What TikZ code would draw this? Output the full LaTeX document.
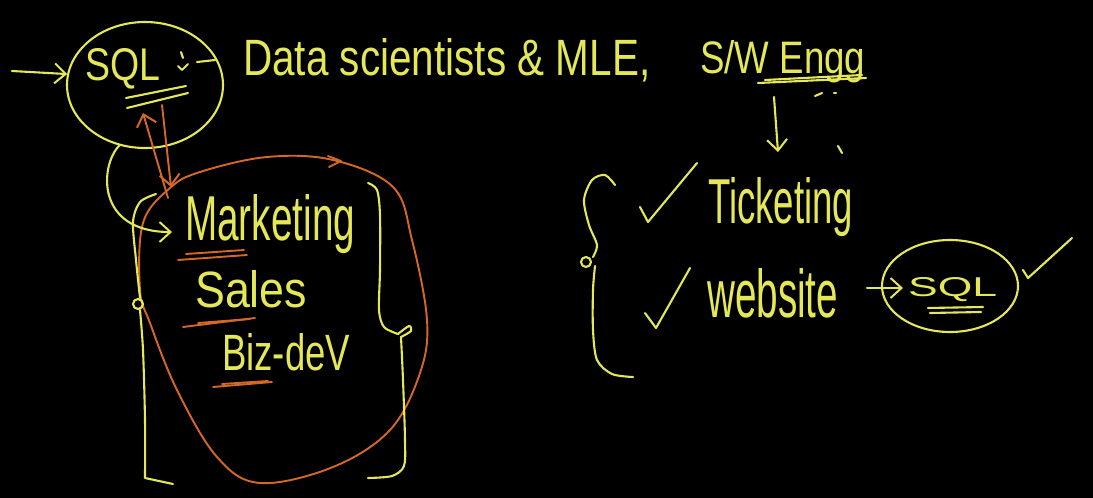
\documentclass[tikz,border=0pt]{standalone}
\usepackage{fontspec}
\setmainfont{Liberation Sans}
\usetikzlibrary{arrows.meta,shapes.geometric}
\definecolor{chalk}{RGB}{228,232,88}
\definecolor{ink}{RGB}{214,104,38}
\newcommand{\hw}[3]{\resizebox{#1pt}{#2pt}{#3}}
\begin{document}
\begin{tikzpicture}[x=1pt,y=-1pt,line cap=round,line join=round,
  yl/.style={draw=chalk,line width=2.1pt},
  ol/.style={draw=ink,line width=1.9pt},
  txt/.style={text=chalk,inner sep=0pt,anchor=base west},
  tipb/.style={-{Straight Barb[length=11pt,width=20pt,line width=2pt]}},
  ring/.style={ellipse,draw=chalk,line width=2.1pt,inner sep=0pt}]
\fill[black] (0,0) rectangle (1093,498);
\useasboundingbox (0,0) rectangle (1093,498);

% ---------- top-left SQL ----------
\node[ring,minimum width=156pt,minimum height=126pt] (sqlA) at (145,85) {};
\node[txt] (sqlAt) at (85,80) {\hw{75}{32}{SQL}};
\draw[yl] (126,98) -- (186,86);
\draw[yl] (127,108) -- (188,93);
\draw[yl] (181,52) -- (183,58);
\draw[yl] (178,66) -- (182,70) -- (188,64);
\draw[yl] (197,62) -- (215,60);
\coordinate (inA) at (12,71);
\draw[yl,tipb] (inA) -- (sqlA.172);

% ---------- heading ----------
\node[txt] (ds) at (243,75) {\hw{407}{37}{Data scientists \& MLE,}};
\node[txt] (sw) at (700,73) {\hw{165}{33}{S/W Engg}};
\draw[yl] (758,83) -- (866,78);
\draw[yl] (765,80) -- (862,75);
\draw[yl] (815,96) -- (822,93);
\draw[yl] (834,93) -- (836,93);
\coordinate (swD) at (774,97);
\coordinate (tkU) at (778,152);
\draw[yl,tipb] (swD) -- (tkU);
\draw[yl] (838,146) -- (842,153);

% ---------- left group ----------
\node[txt] (mk) at (185,240) {\hw{170}{46}{Marketing}};
\node[txt] (sales) at (195,307) {\hw{112}{37}{Sales}};
\node[txt] (biz) at (222,370) {\hw{128}{37}{Biz-deV}};

\draw[ol] plot[smooth cycle,tension=0.6] coordinates {
  (170,188) (200,172) (267,157) (333,160) (393,187) (412,240) (427,320)
  (420,373) (390,430) (333,467) (260,483) (217,457) (177,390) (150,323)
  (140,290) (143,223)};
\draw[ol] (328,156) -- (341,161) -- (329,167);

\draw[ol] (178,260) -- (247,255);
\draw[ol] (186,254) -- (244,250);
\draw[ol] (183,327) -- (255,318);
\draw[ol] (198,323) -- (250,319);
\draw[ol] (213,387) -- (272,382);
\draw[ol] (222,384) -- (268,381);

\coordinate (upS) at (168,198);
\coordinate (upE) at (143,113);
\draw[ol,tipb] (upS) -- (upE);
\coordinate (dnS) at (162,105);
\coordinate (dnE) at (171,187);
\draw[ol,tipb] (dnS) -- (dnE);

\coordinate (mkIn) at (172,232);
\draw[yl,tipb] (sqlA.247) .. controls (100,165) and (95,232) .. (mkIn);

% left bracket
\draw[yl] plot[smooth] coordinates {(156,194) (140,202) (133,222) (136,260) (140,298)};
\draw[yl] (138,304) circle (5pt);
\draw[yl] plot[smooth] coordinates {(140,310) (143,350) (145,420) (145,478)} -- (173,484);
% right bracket
\draw[yl] plot[smooth] coordinates {(368,183) (377,190) (380,215) (380,270) (379,310) (384,327) (398,334)};
\draw[yl] plot[smooth] coordinates {(398,334) (409,326) (411,331) (401,337)};
\draw[yl] plot[smooth] coordinates {(401,337) (403,380) (405,440) (404,466) (392,476) (368,478)};

% ---------- right group ----------
\draw[yl] plot[smooth] coordinates {(615,185) (605,175) (592,180) (584,200) (589,225) (597,245) (593,257)};
\draw[yl] (586,262) circle (5pt);
\draw[yl] plot[smooth] coordinates {(595,266) (593,290) (593,330) (597,360) (612,374) (633,377)};

\draw[yl] (640,207) -- (648,222) -- (697,163);
\draw[yl] (645,313) -- (656,328) -- (690,268);

\node[txt] (tk) at (708,223) {\hw{145}{46}{Ticketing}};
\node[txt] (web) at (707,317) {\hw{131}{49}{website}};

\node[ring,minimum width=136pt,minimum height=92pt] (sqlB) at (950,286) {};
\node[txt] (sqlBt) at (908,296) {\hw{89}{19}{SQL}};
\draw[yl] (928,308) -- (983,307);
\draw[yl] (930,313) -- (981,312);
\coordinate (wS) at (867,288);
\coordinate (wE) at (903,288);
\draw[yl,tipb] (wS) -- (wE);
\draw[yl] (1023,270) -- (1028,278) -- (1072,238);
\end{tikzpicture}
\end{document}
